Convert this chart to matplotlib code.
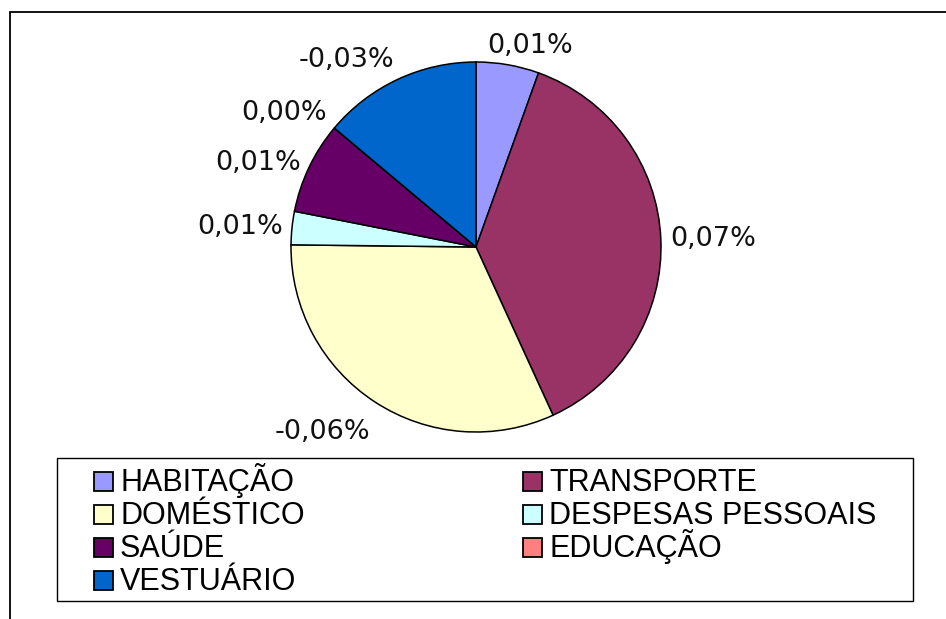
import matplotlib
matplotlib.use("Agg")
import matplotlib.pyplot as plt
from matplotlib.patches import Rectangle

# data (percent change per group)
categories = ["HABITAÇÃO", "TRANSPORTE", "DOMÉSTICO", "DESPESAS PESSOAIS",
              "SAÚDE", "EDUCAÇÃO", "VESTUÁRIO"]
values = [0.0102, 0.0700, -0.0595, 0.0054, 0.0149, 0.0000, -0.0258]
colors = ["#9999FF", "#993366", "#FFFFCC", "#CCFFFF", "#660066", "#FF8080", "#0066CC"]

W, H = 946, 619
fig = plt.figure(figsize=(W / 100, H / 100), dpi=100)

# pie centre and radius in pixels
cx, cy, r = 476, 247, 185
lim = 1.4
ax = fig.add_axes([(cx - lim * r) / W, (H - cy - lim * r) / H, 2 * lim * r / W, 2 * lim * r / H])

sizes = [abs(v) for v in values]
labels = [f"{v:.2f}%".replace(".", ",") for v in values]
wedges, texts = ax.pie(sizes, colors=colors, labels=labels, startangle=90, counterclock=False,
                       labeldistance=1.05, radius=1,
                       wedgeprops=dict(edgecolor="black", linewidth=1.1),
                       textprops=dict(fontsize=19.5, family="DejaVu Sans", color="#111111"))
# nudge some labels to where the original put them
nudges = {0: (-0.12, 0.05), 2: (0.0, -0.12), 5: (0.0, 0.05), 6: (0.0, 0.06)}
for i, (dx, dy) in nudges.items():
    x, y = texts[i].get_position()
    texts[i].set_position((x + dx, y + dy))

ax.set_xlim(-lim, lim)
ax.set_ylim(-lim, lim)
ax.set_aspect("equal")
ax.axis("off")

# outer chart-area frame (only top and left edges visible)
fig.add_artist(Rectangle((9.5 / W, -0.1), 1.2, 1.1 - 12 / H, transform=fig.transFigure,
                         fill=False, edgecolor="black", linewidth=1.3))

# legend: frame plus two columns filled row by row
lx0, ly0, lx1, ly1 = 57, 458, 913, 601
fig.add_artist(Rectangle((lx0 / W, 1 - ly1 / H), (lx1 - lx0) / W, (ly1 - ly0) / H,
                         transform=fig.transFigure, fill=False, edgecolor="black", linewidth=1.0))

col_x = [94, 523]      # left edge of the colour box in each column
base0, row_h = 491, 33  # baseline of first row, row pitch
box = 19
for i, (name, c) in enumerate(zip(categories, colors)):
    row, col = divmod(i, 2)
    bx = col_x[col]
    by = base0 + row * row_h
    fig.add_artist(Rectangle((bx / W, 1 - by / H), box / W, box / H, transform=fig.transFigure,
                             facecolor=c, edgecolor="black", linewidth=1.3))
    fig.text((bx + box + 7) / W, 1 - by / H, name, ha="left", va="baseline",
             family="Liberation Sans", fontsize=22, color="black")

fig.savefig("out.png", dpi=100)
